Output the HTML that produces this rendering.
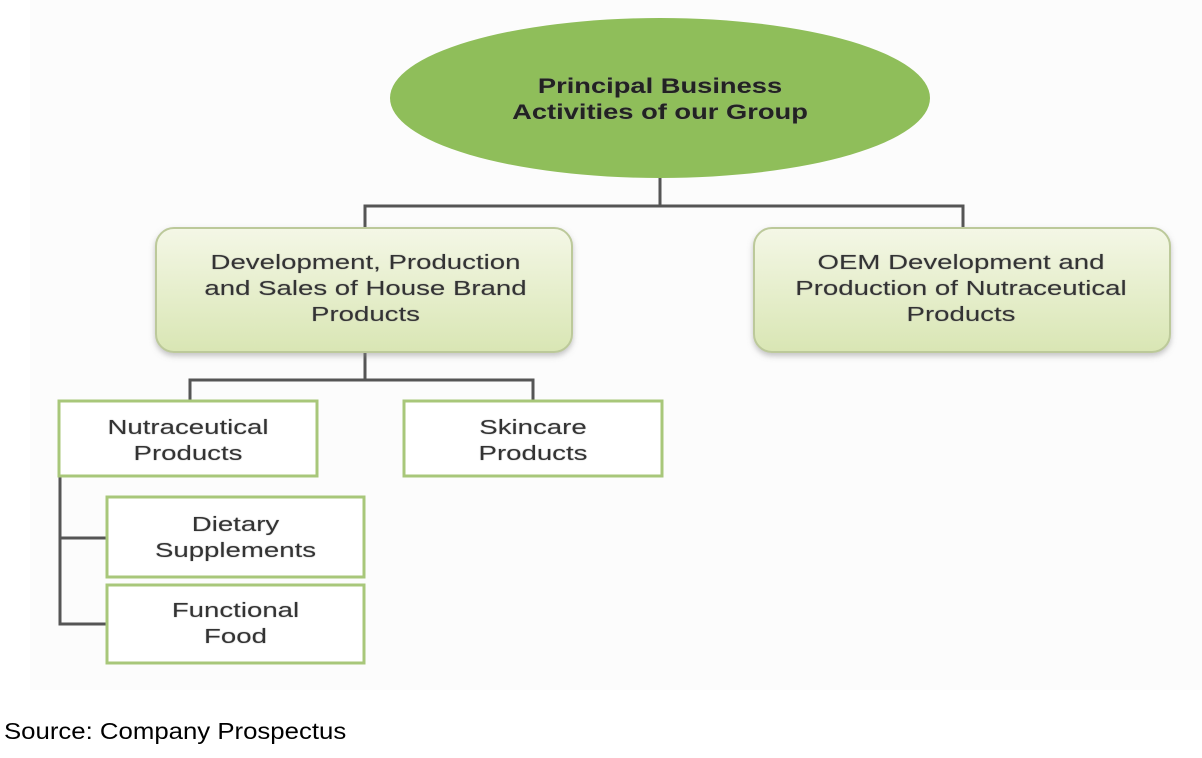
<!DOCTYPE html>
<html><head><style>
body{margin:0;width:1202px;height:758px;background:#fff;position:relative;font-family:"Liberation Sans",Arial,sans-serif;overflow:hidden}
.t{position:absolute;text-align:center;color:#333;font-size:20px;line-height:26px;text-shadow:0 0 1px #999;transform:scaleX(1.38);transform-origin:center}
</style></head><body>
<svg width="1202" height="758" style="position:absolute;left:0;top:0">
<defs>
<linearGradient id="g" x1="0" y1="0" x2="0" y2="1"><stop offset="0" stop-color="#f4f7e6"/><stop offset="1" stop-color="#d9e6b4"/></linearGradient>
<filter id="s"><feDropShadow dx="0" dy="3" stdDeviation="3" flood-color="#888" flood-opacity="0.5"/></filter>
</defs>
<rect x="30" y="0" width="1172" height="690" fill="#fcfcfc"/>
<g stroke="#555" stroke-width="3" fill="none">
<path d="M660 176V206M365 230V206H963V230"/>
<path d="M365 352V380M190 400V380H533V400"/>
<path d="M60 476V624H107M60 538H107"/>
</g>
<ellipse cx="660" cy="98" rx="270" ry="80" fill="#8fbe5a"/>
<rect x="156" y="228" width="416" height="124" rx="18" fill="url(#g)" stroke="#bcc99a" stroke-width="2" filter="url(#s)"/>
<rect x="754" y="228" width="416" height="124" rx="18" fill="url(#g)" stroke="#bcc99a" stroke-width="2" filter="url(#s)"/>
<g fill="#fff" stroke="#a8c77a" stroke-width="3">
<rect x="59" y="401" width="258" height="75"/>
<rect x="404" y="401" width="258" height="75"/>
<rect x="107" y="497" width="257" height="80"/>
<rect x="107" y="585" width="257" height="78"/>
</g>
</svg>
<div class="t" style="left:400px;top:74px;width:520px;font-weight:bold;font-size:21px;color:#222;transform:scaleX(1.3)">Principal Business<br>Activities of our Group</div>
<div class="t" style="left:156px;top:250px;width:419px">Development, Production<br>and Sales of House Brand<br>Products</div>
<div class="t" style="left:752px;top:250px;width:418px">OEM Development and<br>Production of Nutraceutical<br>Products</div>
<div class="t" style="left:59px;top:415px;width:258px">Nutraceutical<br>Products</div>
<div class="t" style="left:404px;top:415px;width:258px">Skincare<br>Products</div>
<div class="t" style="left:107px;top:512px;width:257px">Dietary<br>Supplements</div>
<div class="t" style="left:107px;top:598px;width:257px">Functional<br>Food</div>
<div style="position:absolute;left:4px;top:718px;font-size:23px;color:#000;transform:scaleX(1.12);transform-origin:left">Source: Company Prospectus</div>
</body></html>
